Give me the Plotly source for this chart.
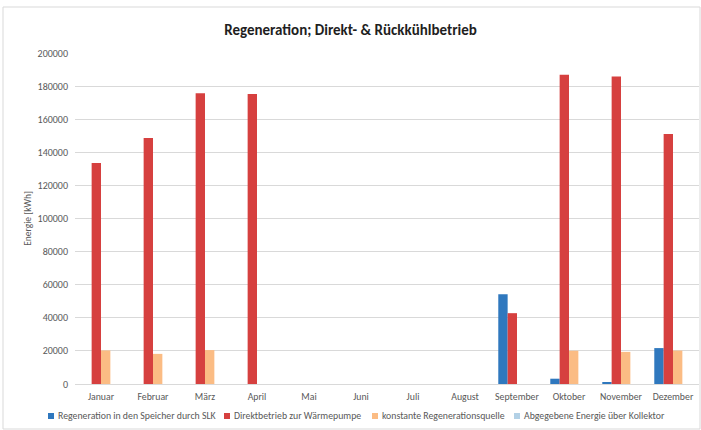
import plotly.graph_objects as go

# Monthly energy balance (kWh)
months = ["Januar", "Februar", "März", "April", "Mai", "Juni", "Juli",
          "August", "September", "Oktober", "November", "Dezember"]
regeneration_slk = [0, 0, 0, 0, 0, 0, 0, 0, 54200, 3200, 800, 21700]
direktbetrieb_wp = [133500, 148600, 175700, 175200, 0, 0, 0, 0, 42800, 186800, 185800, 151000]
konstante_quelle = [20300, 18200, 20500, 0, 0, 0, 0, 0, 0, 20100, 19400, 20200]
abgegeben_kollektor = [0, 0, 0, 0, 0, 0, 0, 0, 0, 0, 0, 0]

series_names = [
    "Regeneration in den Speicher durch SLK",
    "Direktbetrieb zur Wärmepumpe",
    "konstante Regenerationsquelle",
    "Abgegebene Energie über Kollektor",
]
series_values = [regeneration_slk, direktbetrieb_wp, konstante_quelle, abgegeben_kollektor]
colors = ["#2F78BE", "#D6403F", "#FBBC84", "#B3D1E6"]

y_ticks = list(range(0, 200001, 20000))

FONT = "Carlito, Lato, sans-serif"
TXT = "#595959"
W, H = 701, 430
L, R, T, B = 75, 2, 53, 46
pw, ph = W - L - R, H - T - B


def px_x(x):
    return (x - L) / pw


def px_y(y):
    return (H - B - y) / ph


fig = go.Figure()
for name, vals, col in zip(series_names, series_values, colors):
    fig.add_bar(x=months, y=vals, name=name, marker=dict(color=col, line_width=0),
                showlegend=False)

shapes = [
    # outer chart frame
    dict(type="rect", xref="paper", yref="paper",
         x0=px_x(3), x1=px_x(700), y0=px_y(429), y1=px_y(7),
         line=dict(color="#D9D9D9", width=1), fillcolor="rgba(0,0,0,0)", layer="below"),
]
annotations = []

# legend row below the axis
legend_x = [48, 224, 372, 514]
legend_y = 416
for name, col, lx in zip(series_names, colors, legend_x):
    shapes.append(dict(type="rect", xref="paper", yref="paper",
                       x0=px_x(lx), x1=px_x(lx + 6), y0=px_y(legend_y + 3), y1=px_y(legend_y - 3),
                       line_width=0, fillcolor=col))
    annotations.append(dict(text=name, xref="paper", yref="paper",
                            x=px_x(lx + 8), y=px_y(legend_y), xanchor="left", yanchor="middle",
                            showarrow=False, font=dict(family=FONT, size=9.8, color=TXT)))

fig.update_layout(
    width=W, height=H,
    margin=dict(l=L, r=R, t=T, b=B),
    paper_bgcolor="white", plot_bgcolor="white",
    barmode="group", bargap=0.28, bargroupgap=0,
    title=dict(text="<b>Regeneration; Direkt- & Rückkühlbetrieb</b>",
               x=0.5, xanchor="center", y=1 - 30 / H, yanchor="middle",
               font=dict(family=FONT, size=15, color="#1F1F1F")),
    shapes=shapes,
    annotations=annotations,
    xaxis=dict(showgrid=False, showline=True, linecolor="#D9D9D9", linewidth=1,
               ticks="", ticklabelstandoff=3,
               tickfont=dict(family=FONT, size=9.8, color=TXT)),
    yaxis=dict(range=[0, 200000], tickvals=y_ticks, tickformat="d",
               showgrid=True, gridcolor="#D9D9D9", gridwidth=1,
               zeroline=False, showline=False, ticks="", ticklen=0,
               ticklabelstandoff=6,
               tickfont=dict(family=FONT, size=10, color=TXT),
               title=dict(text="Energie [kWh]", standoff=4,
                          font=dict(family=FONT, size=9.5, color=TXT))),
    showlegend=False,
)

fig.write_html("out.html")
